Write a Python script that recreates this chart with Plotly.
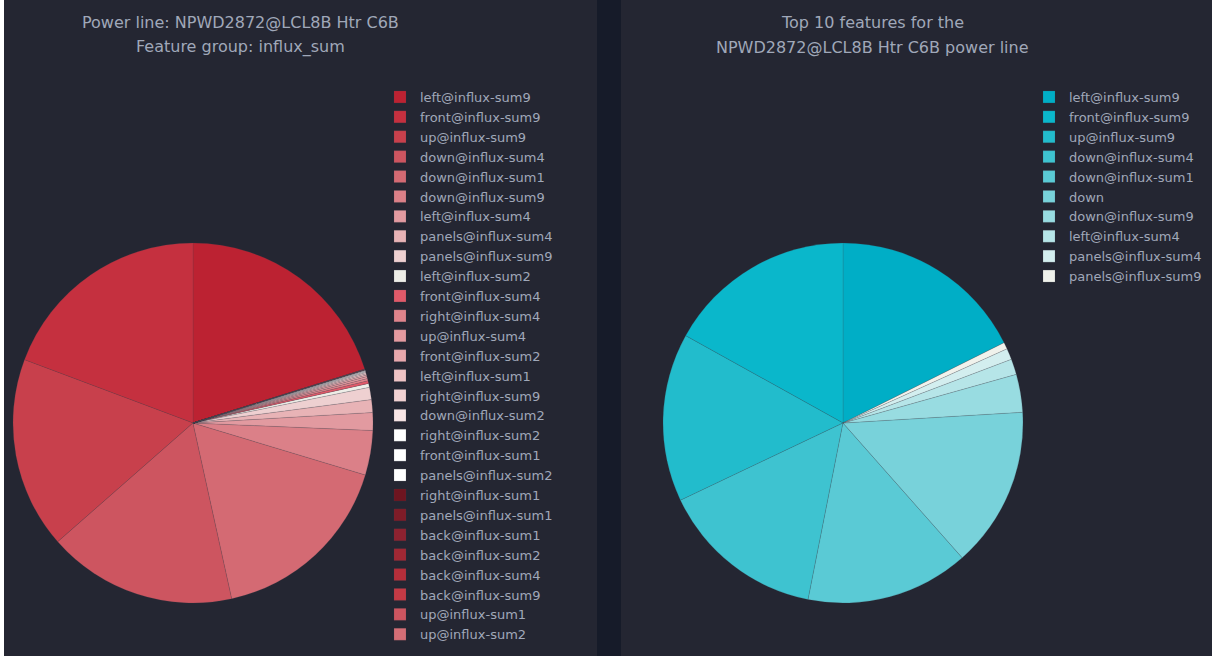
import plotly.graph_objects as go

W, H = 1212, 659

# ---------------- data ----------------
left_labels = [
    "left@influx-sum9", "front@influx-sum9", "up@influx-sum9", "down@influx-sum4",
    "down@influx-sum1", "down@influx-sum9", "left@influx-sum4", "panels@influx-sum4",
    "panels@influx-sum9", "left@influx-sum2", "front@influx-sum4", "right@influx-sum4",
    "up@influx-sum4", "front@influx-sum2", "left@influx-sum1", "right@influx-sum9",
    "down@influx-sum2", "right@influx-sum2", "front@influx-sum1", "panels@influx-sum2",
    "right@influx-sum1", "panels@influx-sum1", "back@influx-sum1", "back@influx-sum2",
    "back@influx-sum4", "back@influx-sum9", "up@influx-sum1", "up@influx-sum2",
]
left_values = [
    20.2, 19.3, 17.2, 17.0,
    16.9, 4.0, 1.6, 1.15,
    1.1, 0.35, 0.25, 0.2,
    0.17, 0.15, 0.12, 0.1,
    0.08, 0.06, 0.05, 0.04,
    0.02, 0.015, 0.01, 0.008,
    0.006, 0.004, 0.002, 0.001,
]
left_colors = [
    "#bc2232", "#c5303f", "#c8404c", "#cd5560",
    "#d46a73", "#db8088", "#e29aa0", "#e8b3b6",
    "#eed0d1", "#eeeee8", "#e05a6a", "#e0848c",
    "#e49aa0", "#e8a8ad", "#efc3c5", "#f2d2d3",
    "#f8e6e6", "#ffffff", "#ffffff", "#ffffff",
    "#6e1520", "#7e1c28", "#8e2230", "#a02834",
    "#b52e3a", "#c43a45", "#cc5560", "#d46e76",
]

right_labels = [
    "left@influx-sum9", "front@influx-sum9", "up@influx-sum9", "down@influx-sum4",
    "down@influx-sum1", "down", "down@influx-sum9", "left@influx-sum4",
    "panels@influx-sum4", "panels@influx-sum9",
]
right_values = [17.6, 16.9, 15.1, 14.8, 14.6, 14.4, 3.4, 1.4, 1.0, 0.6]
right_colors = [
    "#00aec6", "#0ab7cb", "#22bccc", "#3ec3d0", "#5acad5",
    "#78d2da", "#98dce1", "#b6e5e8", "#d3eeef", "#f0f2ec",
]

left_title = ["Power line: NPWD2872@LCL8B Htr C6B", "Feature group: influx_sum"]
right_title = ["Top 10 features for the", "NPWD2872@LCL8B Htr C6B power line"]

# ---------------- style ----------------
PANEL = "#242632"
SEP = "#161b29"
TXT = "#a0a8b9"
FONT = "DejaVu Sans"
SLICE_LINE = dict(color="rgba(70,70,80,0.35)", width=0.5)

def px_x(v):
    return v / W

def px_y(v):
    return 1 - v / H

fig = go.Figure()

fig.add_trace(go.Pie(
    labels=left_labels, values=left_values,
    marker=dict(colors=left_colors, line=SLICE_LINE),
    textinfo="none", sort=False, hole=0,
    domain=dict(x=[px_x(13), px_x(373)], y=[px_y(603), px_y(243)]),
    legend="legend",
))
# the second chart is a separate panel: give its labels their own legend keys
# (a trailing space keeps the displayed text identical)
fig.add_trace(go.Pie(
    labels=[l + " " for l in right_labels], values=right_values,
    marker=dict(colors=right_colors, line=SLICE_LINE),
    textinfo="none", sort=False, hole=0,
    domain=dict(x=[px_x(663), px_x(1023)], y=[px_y(603), px_y(243)]),
    legend="legend2",
))

shapes = [
    dict(type="rect", xref="paper", yref="paper", x0=px_x(4), x1=px_x(597), y0=px_y(656), y1=1,
         fillcolor=PANEL, line=dict(width=0), layer="below"),
    dict(type="rect", xref="paper", yref="paper", x0=px_x(597), x1=px_x(621), y0=px_y(656), y1=1,
         fillcolor=SEP, line=dict(width=0), layer="below"),
    dict(type="rect", xref="paper", yref="paper", x0=px_x(621), x1=1, y0=px_y(656), y1=1,
         fillcolor=PANEL, line=dict(width=0), layer="below"),
]

annotations = []
for i, t in enumerate(left_title):
    annotations.append(dict(text=t, x=px_x(240), y=px_y(23 + 24 * i), xref="paper", yref="paper",
                            xanchor="center", yanchor="middle", showarrow=False,
                            font=dict(family=FONT, size=16, color=TXT)))
for i, t in enumerate(right_title):
    annotations.append(dict(text=t, x=px_x(872), y=px_y(23 + 24 * i), xref="paper", yref="paper",
                            xanchor="center", yanchor="middle", showarrow=False,
                            font=dict(family=FONT, size=16, color=TXT)))

legend_common = dict(font=dict(family=FONT, size=13, color=TXT), bgcolor="rgba(0,0,0,0)",
                     xanchor="left", yanchor="top", tracegroupgap=0)

fig.update_layout(
    width=W, height=H,
    margin=dict(l=0, r=0, t=0, b=0),
    paper_bgcolor="#ffffff",
    plot_bgcolor="rgba(0,0,0,0)",
    font=dict(family=FONT, color=TXT),
    shapes=shapes,
    annotations=annotations,
    legend=dict(x=px_x(380), y=px_y(82), **legend_common),
    legend2=dict(x=px_x(1029), y=px_y(82), **legend_common),
    showlegend=True,
)

fig.write_html("out.html", config={"displayModeBar": False},
               post_script="document.body.style.margin='0px';")
